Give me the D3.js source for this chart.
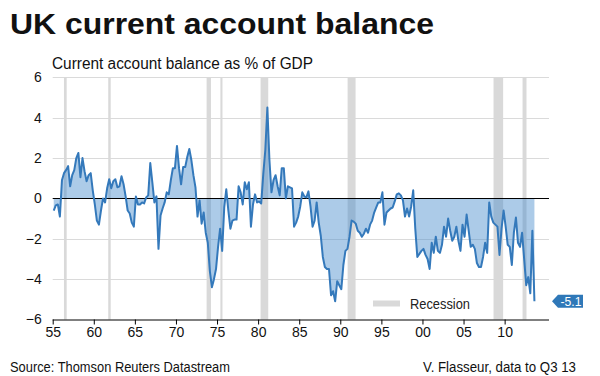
<!DOCTYPE html>
<html>
<head>
<meta charset="utf-8">
<script src="https://cdn.jsdelivr.net/npm/d3@7"></script>
<style>
  html, body { margin: 0; padding: 0; background: #fff; }
  svg { display: block; }
  text { font-family: "Liberation Sans", Arial, sans-serif; }
</style>
</head>
<body>
<svg id="chart" width="600" height="376"></svg>
<script>
// ---------------- DATA ----------------
const title = "UK current account balance";
const subtitle = "Current account balance as % of GDP";
const sourceText = "Source: Thomson Reuters Datastream";
const creditText = "V. Flasseur, data to Q3 13";
const legendLabel = "Recession";

// First quarter of the series: 1955 Q1, quarterly, through 2013 Q3
const firstYear = 1955;
// Current account balance, % of GDP (quarterly)
const balance1955_1964 = [
  -0.6, -0.35, -0.3, -0.9, 0.9, 1.25, 1.4, 1.6, 0.6, 1.15,
  1.4, 2.0, 2.25, 1.05, 2.0, 1.35, 0.85, 1.15, 1.25, 0.4,
  -0.3, -1.1, -1.3, -0.6, 0.0, -0.2, 0.5, 0.95, 0.5, 0.85,
  0.95, 0.55, 0.6, 1.1, 0.7, 0.1, -0.6, -0.75, -1.2, -1.4
];
const balance1965_1974 = [
  0.1, -0.3, -0.3, -0.2, -0.25, 0.05, 0.15, 1.75, 0.8, -0.2,
  0.1, -2.5, -0.85, -0.5, -0.2, 0.3, 0.2, 0.9, 1.5, 1.5,
  2.6, 1.5, 0.7, 1.55, 1.55, 2.05, 2.45, 1.9, 1.15, 0.55,
  -0.9, -0.1, -1.25, -0.7, -1.7, -2.2, -3.6, -4.4, -4.0, -3.5
];
const balance1975_1984 = [
  -2.4, -1.5, -2.6, -0.45, 0.45, -0.6, -1.5, -1.1, -1.05, -1.05,
  0.6, 0.3, -0.3, 0.8, 0.45, 0.8, -1.4, -0.3, 0.2, -0.2,
  -0.15, -0.25, 1.2, 2.4, 4.5, 1.9, 0.3, 0.9, 1.15, 0.6,
  0.15, 1.5, 1.5, 0.0, 0.6, 0.55, 0.5, -1.4, -1.2, -0.9
];
const balance1985_1994 = [
  -0.4, 0.3, 0.1, 0.05, 0.35, -0.4, -1.4, -1.1, -0.2, -1.2,
  -1.85, -2.9, -3.4, -3.5, -3.5, -4.8, -4.6, -5.1, -4.1, -4.3,
  -4.5, -3.3, -2.6, -2.5, -1.9, -1.1, -1.15, -1.25, -1.6, -1.7,
  -1.9, -1.75, -1.5, -1.7, -1.3, -1.1, -0.7, -0.45, -0.2, -0.2
];
const balance1995_2004 = [
  0.3, -1.3, -0.7, -0.6, -0.5, -0.45, -0.15, 0.2, 0.25, 0.15,
  -0.1, -0.9, -0.5, -0.9, -0.4, 0.4, -1.5, -2.9, -2.75, -2.6,
  -2.5, -2.8, -3.0, -3.5, -2.2, -2.7, -1.9, -2.6, -2.7, -2.3,
  -1.4, -1.9, -1.0, -1.6, -2.1, -1.9, -1.4, -2.1, -2.6, -1.3
];
const balance2005_2013 = [
  -1.9, -0.8, -1.6, -2.4, -2.3, -2.5, -3.2, -3.4, -3.4, -2.9,
  -2.2, -2.7, -0.2, -0.9, -1.2, -1.3, -1.4, -2.8, -1.5, -0.6,
  -1.4, -2.3, -2.4, -3.3, -1.7, -0.95, -2.2, -2.4, -1.7, -3.0,
  -4.3, -3.9, -4.7, -1.6, -5.1
];

// Recession periods (decimal years, start / end)
const recessionStart = [1956.37, 1961.76, 1973.73, 1975.41, 1980.30, 1990.89, 2008.65, 2012.18];
const recessionEnd   = [1956.70, 1962.06, 1974.26, 1975.66, 1981.23, 1991.86, 2009.82, 2012.66];

// Axis ticks
const xTickYears  = [1955, 1960, 1965, 1970, 1975, 1980, 1985, 1990, 1995, 2000, 2005, 2010];
const xTickLabels = ["55", "60", "65", "70", "75", "80", "85", "90", "95", "00", "05", "10"];
const yTicks = [6, 4, 2, 0, -2, -4, -6];

const lastLabel = "-5.1";

// ---------------- BUILD ----------------
(function () {
const values = [].concat(balance1955_1964, balance1965_1974, balance1975_1984,
                         balance1985_1994, balance1995_2004, balance2005_2013);
const series = values.map((v, i) => ({ t: firstYear + i / 4 + 0.125, v: v }));

const svg = d3.select("#chart");
const pLeft = 52.7, pRight = 549, pTop = 77.3, pBottom = 319.5;

const x = d3.scaleLinear().domain([1955, 2015.4]).range([pLeft, pRight]);
const y = d3.scaleLinear().domain([-6, 6]).range([pBottom, pTop]);

// Title & subtitle
svg.append("text").attr("x", 10).attr("y", 34)
  .attr("font-size", 30).attr("font-weight", "bold").attr("fill", "#111")
  .attr("textLength", 424).attr("lengthAdjust", "spacingAndGlyphs")
  .text(title);
svg.append("text").attr("x", 52).attr("y", 69)
  .attr("font-size", 16).attr("fill", "#111")
  .attr("textLength", 261).attr("lengthAdjust", "spacingAndGlyphs")
  .text(subtitle);

// Gridlines
svg.append("g").selectAll("line").data(yTicks.filter(d => d !== 0 && d !== -6)).join("line")
  .attr("x1", pLeft).attr("x2", pRight)
  .attr("y1", d => Math.round(y(d)) + 0.5).attr("y2", d => Math.round(y(d)) + 0.5)
  .attr("stroke", "#dadada").attr("stroke-width", 1);

// Recession bands
svg.append("g").selectAll("rect").data(recessionStart.map((s, i) => [s, recessionEnd[i]])).join("rect")
  .attr("x", d => x(d[0])).attr("width", d => x(d[1]) - x(d[0]))
  .attr("y", pTop).attr("height", pBottom - pTop)
  .attr("fill", "#d9d9d9");

// Area fill
const area = d3.area().x(d => x(d.t)).y0(y(0)).y1(d => y(d.v));
svg.append("path").datum(series).attr("d", area)
  .attr("fill", "rgba(70,140,205,0.45)");

// Zero line
svg.append("line").attr("x1", pLeft).attr("x2", pRight)
  .attr("y1", Math.round(y(0)) + 0.5).attr("y2", Math.round(y(0)) + 0.5)
  .attr("stroke", "#000").attr("stroke-width", 1);

// Line
const line = d3.line().x(d => x(d.t)).y(d => y(d.v));
svg.append("path").datum(series).attr("d", line)
  .attr("fill", "none").attr("stroke", "#3479bb").attr("stroke-width", 2)
  .attr("stroke-linejoin", "round");

// X axis
const xAxis = d3.axisBottom(x).tickValues(xTickYears)
  .tickFormat((d, i) => xTickLabels[i]).tickSize(5).tickSizeOuter(0);
const gx = svg.append("g").attr("transform", `translate(0,${pBottom})`).call(xAxis);
gx.select(".domain").attr("stroke", "#000").attr("d", `M${pLeft},0.5H${pRight}`);
gx.selectAll(".tick line").attr("stroke", "#000");
gx.selectAll(".tick text").attr("font-size", 14).attr("fill", "#111")
  .attr("y", 8).attr("dy", "0.71em")
  .style("font-family", "'Liberation Sans', Arial, sans-serif");

// Y axis labels
const yAxis = d3.axisLeft(y).tickValues(yTicks).tickFormat(d3.format("d")).tickSize(0);
const gy = svg.append("g").attr("transform", `translate(${pLeft - 11},0)`).call(yAxis);
gy.select(".domain").remove();
gy.selectAll(".tick text").attr("font-size", 14).attr("fill", "#111").attr("x", 0)
  .style("font-family", "'Liberation Sans', Arial, sans-serif");

// Legend
svg.append("rect").attr("x", 373).attr("y", 300.5).attr("width", 27).attr("height", 6)
  .attr("fill", "#d9d9d9");
svg.append("text").attr("x", 410).attr("y", 309).attr("font-size", 14).attr("fill", "#222")
  .attr("textLength", 60).attr("lengthAdjust", "spacingAndGlyphs")
  .text(legendLabel);

// Last value label
const ly = y(series[series.length - 1].v);
const lx = 552;
svg.append("path")
  .attr("d", `M${lx},${ly} L${lx + 6},${ly - 6.5} H${lx + 31} V${ly + 6.5} H${lx + 6} Z`)
  .attr("fill", "#2f78b8");
svg.append("text").attr("x", lx + 19).attr("y", ly + 4.5).attr("text-anchor", "middle")
  .attr("font-size", 13).attr("fill", "#fff")
  .attr("textLength", 21).attr("lengthAdjust", "spacingAndGlyphs")
  .text(lastLabel);

// Footer
svg.append("text").attr("x", 10).attr("y", 372).attr("font-size", 14).attr("fill", "#111")
  .attr("textLength", 220).attr("lengthAdjust", "spacingAndGlyphs")
  .text(sourceText);
svg.append("text").attr("x", 423).attr("y", 372)
  .attr("font-size", 14).attr("fill", "#111")
  .attr("textLength", 153).attr("lengthAdjust", "spacingAndGlyphs")
  .text(creditText);
})();
</script>
</body>
</html>
